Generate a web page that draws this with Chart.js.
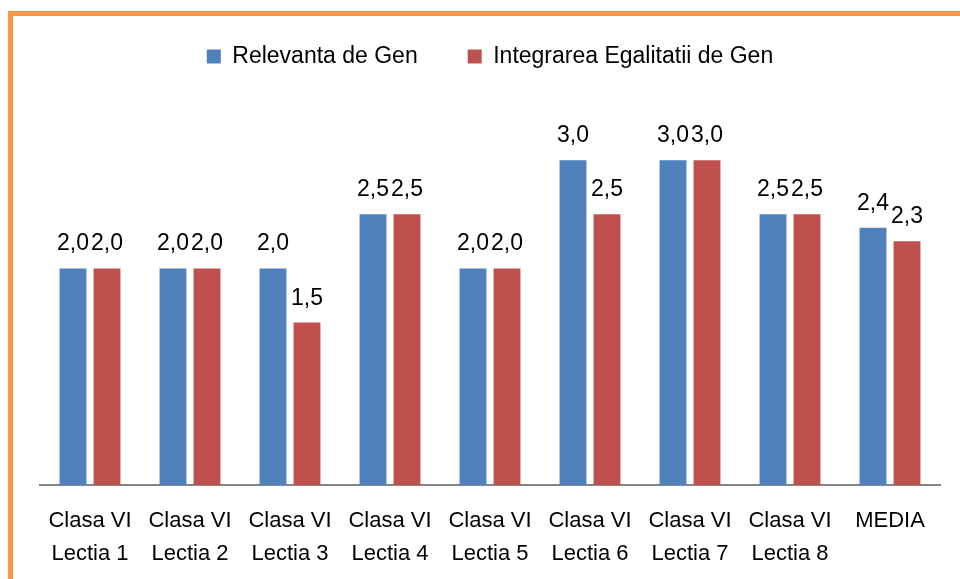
<!DOCTYPE html>
<html>
<head>
<meta charset="utf-8">
<script src="https://cdn.jsdelivr.net/npm/chart.js@4"></script>
<style>
  html, body { margin: 0; padding: 0; background: #fff; }
  #wrap { position: relative; width: 960px; height: 579px; overflow: hidden; }
  #frame { position: absolute; left: 8px; top: 11px; width: 2000px; height: 2000px;
           border-left: 5px solid #F79646; border-top: 5px solid #F79646; }
  #chart { position: absolute; left: 0; top: 0; }
</style>
</head>
<body>
<div id="wrap">
  <div id="frame"></div>
  <canvas id="chart" width="960" height="579"></canvas>
</div>
<script>
const categories = [
  ['Clasa VI', 'Lectia 1'], ['Clasa VI', 'Lectia 2'], ['Clasa VI', 'Lectia 3'],
  ['Clasa VI', 'Lectia 4'], ['Clasa VI', 'Lectia 5'], ['Clasa VI', 'Lectia 6'],
  ['Clasa VI', 'Lectia 7'], ['Clasa VI', 'Lectia 8'], 'MEDIA'
];
const relevanta = [2.0, 2.0, 2.0, 2.5, 2.0, 3.0, 3.0, 2.5, 2.375];
const integrarea = [2.0, 2.0, 1.5, 2.5, 2.0, 2.5, 3.0, 2.5, 2.25];
const seriesNames = ['Relevanta de Gen', 'Integrarea Egalitatii de Gen'];

const FONT = '"Liberation Sans", Arial, sans-serif';

// value labels above each bar, comma decimal
const barLabels = {
  id: 'barLabels',
  afterDatasetsDraw(chart) {
    const ctx = chart.ctx;
    ctx.save();
    ctx.font = '23px ' + FONT;
    ctx.fillStyle = '#000';
    ctx.textAlign = 'center';
    ctx.textBaseline = 'alphabetic';
    chart.data.datasets.forEach((ds, i) => {
      chart.getDatasetMeta(i).data.forEach((bar, j) => {
        const txt = ds.data[j].toFixed(1).replace('.', ',');
        ctx.fillText(txt, bar.x, bar.y - 18);
      });
    });
    ctx.restore();
  }
};

// leave room between legend and plot
const legendGap = {
  id: 'legendGap',
  beforeInit(chart) {
    const fit = chart.legend.fit;
    chart.legend.fit = function () {
      fit.bind(this)();
      this.height = 111;
    };
  }
};

new Chart(document.getElementById('chart'), {
  type: 'bar',
  data: {
    labels: categories,
    datasets: [
      { label: seriesNames[0], data: relevanta, backgroundColor: '#4F81BD' },
      { label: seriesNames[1], data: integrarea, backgroundColor: '#C0504D' }
    ]
  },
  options: {
    responsive: false,
    animation: false,
    categoryPercentage: 0.68,
    barPercentage: 0.79,
    layout: { padding: { left: 40, right: 20, top: -5, bottom: -10 } },
    plugins: {
      legend: {
        position: 'top',
        labels: {
          boxWidth: 14, boxHeight: 14, padding: 50,
          color: '#000',
          font: { family: FONT, size: 23 }
        }
      },
      tooltip: { enabled: false }
    },
    scales: {
      x: {
        grid: { display: false, drawTicks: false },
        border: { color: '#868686', width: 2 },
        ticks: {
          color: '#000', padding: 19, maxRotation: 0, autoSkip: false,
          font: { family: FONT, size: 22, lineHeight: 1.5 }
        }
      },
      y: {
        display: false,
        min: 0, max: 3.5
      }
    }
  },
  plugins: [barLabels, legendGap]
});
</script>
</body>
</html>
